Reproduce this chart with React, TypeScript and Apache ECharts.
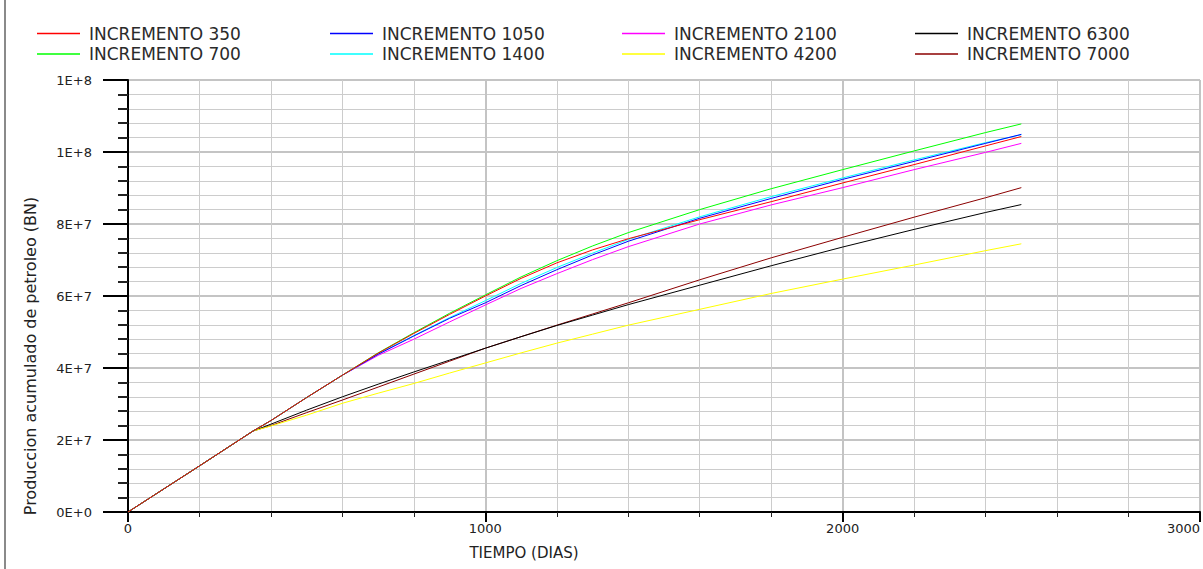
import React, { useEffect, useRef } from "react";
import * as echarts from "echarts";

// Time axis (days) shared by every run
const days = [0, 200, 350, 400, 500, 600, 700, 800, 900, 1000, 1100, 1200, 1300, 1400, 1600, 1800, 2000, 2200, 2400, 2500];

// Cumulative oil production, millions of BN, one list per increment case
const inc350 = [0, 12.8, 22.5, 25.4, 31.8, 38.0, 44.1, 49.6, 54.9, 60.0, 64.9, 69.2, 72.8, 75.9, 81.2, 86.2, 91.4, 96.5, 101.7, 104.3];
const inc700 = [0, 12.8, 22.5, 25.4, 31.8, 38.0, 44.2, 49.8, 55.2, 60.3, 65.3, 69.8, 73.9, 77.6, 84.0, 89.8, 95.1, 100.3, 105.4, 107.8];
const inc1050 = [0, 12.8, 22.5, 25.4, 31.8, 38.0, 43.8, 48.9, 53.8, 58.1, 62.9, 67.3, 71.4, 75.2, 81.6, 87.1, 92.4, 97.4, 102.4, 104.9];
const inc1400 = [0, 12.8, 22.5, 25.4, 31.8, 38.0, 43.9, 49.0, 54.0, 58.7, 63.5, 67.9, 71.9, 75.7, 82.0, 87.6, 92.8, 97.8, 102.6, 104.8];
const inc2100 = [0, 12.8, 22.5, 25.4, 31.8, 38.0, 43.5, 48.0, 52.8, 57.5, 62.1, 66.2, 70.1, 73.7, 80.0, 85.3, 90.1, 95.1, 99.9, 102.4];
const inc4200 = [0, 12.8, 22.5, 23.9, 26.9, 30.2, 33.0, 35.7, 38.6, 41.4, 44.2, 46.9, 49.4, 51.9, 56.3, 60.7, 64.7, 68.6, 72.6, 74.5];
const inc6300 = [0, 12.8, 22.5, 24.4, 28.3, 32.0, 35.5, 38.9, 42.2, 45.5, 48.7, 51.8, 54.7, 57.6, 63.0, 68.4, 73.6, 78.5, 83.2, 85.4];
const inc7000 = [0, 12.8, 22.5, 24.0, 27.6, 31.1, 34.7, 38.3, 41.9, 45.5, 48.7, 51.9, 55.0, 58.1, 64.5, 70.6, 76.3, 81.9, 87.3, 90.1];

const seriesNames = [
  "INCREMENTO 350",
  "INCREMENTO 700",
  "INCREMENTO 1050",
  "INCREMENTO 1400",
  "INCREMENTO 2100",
  "INCREMENTO 4200",
  "INCREMENTO 6300",
  "INCREMENTO 7000",
];
const seriesValues = [inc350, inc700, inc1050, inc1400, inc2100, inc4200, inc6300, inc7000];
const seriesColors = ["#ff0000", "#00ff00", "#0000ff", "#00ffff", "#ff00ff", "#ffff00", "#000000", "#8b0000"];

// Axis tick labels
const xTickLabels = ["0", "1000", "2000", "3000"];
const yTickLabels = ["0E+0", "2E+7", "4E+7", "6E+7", "8E+7", "1E+8", "1E+8"];

const MILLION = 1e6;
const FONT = "DejaVu Sans";

export default function App() {
  const ref = useRef<HTMLDivElement>(null);

  useEffect(() => {
    if (!ref.current) return;
    const chart = echarts.init(ref.current, undefined, { renderer: "svg" });

    // 4 columns x 2 rows of legend entries
    const legendCols = [37, 330, 622, 915];
    const legendRows = [25, 45.5];
    const legends = seriesNames.map((name, i) => ({
      data: [name],
      left: legendCols[Math.floor(i / 2)],
      top: legendRows[i % 2],
      padding: 0,
      icon: "rect",
      itemWidth: 43,
      itemHeight: 1.5,
      selectedMode: false,
      textStyle: {
        fontFamily: FONT,
        fontSize: 17,
        lineHeight: 17,
        color: "#2a2a2a",
        padding: [0, 0, 0, 4],
      },
    }));

    // draw the lowest-production runs first so the shared early segment reads red
    const order = [7, 6, 5, 4, 3, 2, 1, 0];
    const series = order.map((i) => ({
      name: seriesNames[i],
      type: "line",
      symbol: "none",
      showSymbol: false,
      color: seriesColors[i],
      lineStyle: { color: seriesColors[i], width: 1 },
      itemStyle: { color: seriesColors[i] },
      data: days.map((d, k) => [d, seriesValues[i][k] * MILLION]),
    }));

    chart.setOption({
      animation: false,
      backgroundColor: "#ffffff",
      legend: legends,
      grid: { left: 128, right: -3, top: 80, bottom: 57, containLabel: false },
      xAxis: {
        type: "value",
        min: 0,
        max: 3000,
        interval: 1000,
        axisLine: { show: true, onZero: false, lineStyle: { color: "#000000", width: 2 } },
        axisTick: { show: true, length: 10, lineStyle: { color: "#000000", width: 2 } },
        minorTick: { show: true, splitNumber: 5, length: 5, lineStyle: { color: "#222222", width: 1 } },
        axisLabel: {
          margin: 10,
          fontFamily: FONT,
          fontSize: 13,
          color: "#222222",
          formatter: (v: number) => xTickLabels[Math.round(v / 1000)] ?? "",
          alignMaxLabel: "right",
        },
        splitLine: { show: true, lineStyle: { color: "#c4c4c4", width: 2 } },
        minorSplitLine: { show: true, lineStyle: { color: "#cccccc", width: 1 } },
      },
      yAxis: {
        type: "value",
        min: 0,
        max: 1.2e8,
        interval: 2e7,
        axisLine: { show: true, onZero: false, lineStyle: { color: "#000000", width: 2 } },
        axisTick: { show: true, length: 25, lineStyle: { color: "#000000", width: 2 } },
        minorTick: { show: true, splitNumber: 5, length: 10, lineStyle: { color: "#222222", width: 2 } },
        axisLabel: {
          margin: 36,
          fontFamily: FONT,
          fontSize: 13,
          color: "#222222",
          formatter: (v: number) => yTickLabels[Math.round(v / 2e7)] ?? "",
        },
        splitLine: { show: true, lineStyle: { color: "#c4c4c4", width: 2 } },
        minorSplitLine: { show: true, lineStyle: { color: "#cccccc", width: 1 } },
      },
      graphic: [
        {
          type: "line",
          shape: { x1: 5, y1: 0, x2: 5, y2: 569 },
          style: { stroke: "#8a8a8a", lineWidth: 2 },
        },
        {
          type: "text",
          x: 30,
          y: 356,
          rotation: Math.PI / 2,
          style: {
            text: "Produccion acumulado de petroleo (BN)",
            fontFamily: FONT,
            fontSize: 16,
            fill: "#222222",
            textAlign: "center",
            textVerticalAlign: "middle",
          },
        },
        {
          type: "text",
          x: 524,
          y: 553,
          style: {
            text: "TIEMPO (DIAS)",
            fontFamily: FONT,
            fontSize: 15,
            fill: "#222222",
            textAlign: "center",
            textVerticalAlign: "middle",
          },
        },
      ],
      series,
    });

    return () => chart.dispose();
  }, []);

  return (
    <div
      ref={ref}
      style={{ position: "absolute", left: 0, top: 0, width: 1203, height: 569, background: "#ffffff" }}
    />
  );
}
